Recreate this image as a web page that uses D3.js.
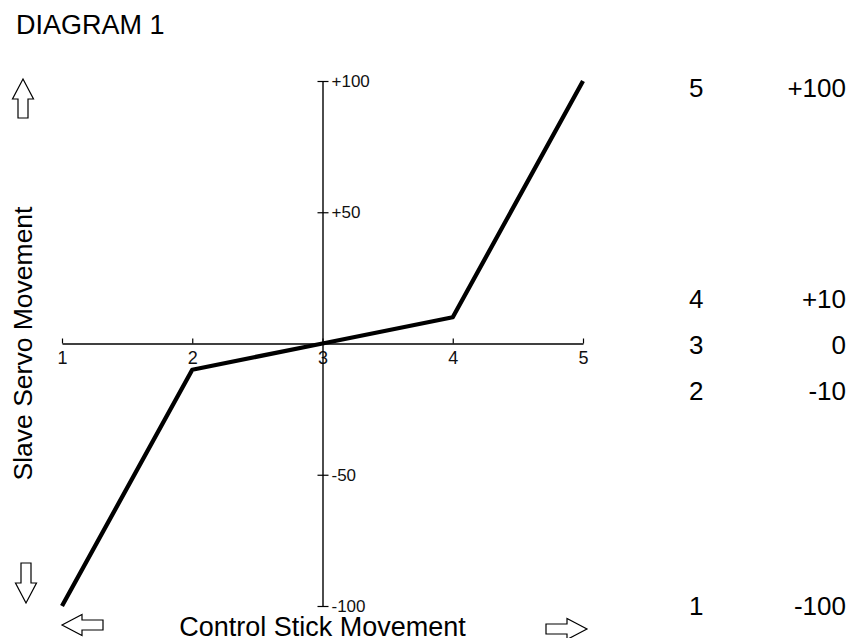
<!DOCTYPE html>
<html>
<head>
<meta charset="utf-8">
<script src="https://cdn.jsdelivr.net/npm/d3@7"></script>
<style>
  body { margin: 0; background: #fff; }
  svg { display: block; font-family: "Liberation Sans", Arial, sans-serif; }
</style>
</head>
<body>
<div id="chart"></div>
<script>
var width = 852,
    height = 638;

// data
var stickPos = [1, 2, 3, 4, 5];
var servoOut = [-100, -10, 0, 10, 100];
var xTickLabels = ["1", "2", "3", "4", "5"];
var yTicks = [100, 50, -50, -100];
var yTickLabels = ["+100", "+50", "-50", "-100"];
var tablePos = ["5", "4", "3", "2", "1"];
var tableOut = ["+100", "+10", "0", "-10", "-100"];

var svg = d3.select("#chart")
    .append("svg")
    .attr("width", width)
    .attr("height", height);

var x = d3.scaleLinear().domain([1, 5]).range([62, 583]);
var y = d3.scaleLinear().domain([-100, 100]).range([606, 81]);

svg.append("text")
    .attr("x", 16)
    .attr("y", 34)
    .style("font-size", "27px")
    .text("DIAGRAM 1");

// x axis, ticks pointing up
var xAxis = d3.axisBottom(x)
    .tickValues(stickPos)
    .tickFormat(function(d, i) { return xTickLabels[i]; })
    .tickSizeInner(-5)
    .tickSizeOuter(0)
    .tickPadding(8);

var gx = svg.append("g")
    .attr("transform", "translate(0," + y(0) + ")")
    .call(xAxis);
gx.select(".domain").attr("stroke-width", 1.4);
gx.selectAll(".tick line").attr("stroke-width", 1.2);
gx.selectAll(".tick text")
    .style("font-size", "18px")
    .style("font-family", "'Liberation Sans', Arial, sans-serif")
    .attr("fill", "#111");

// y axis, ticks across the line
var yAxis = d3.axisRight(y)
    .tickValues(yTicks)
    .tickFormat(function(d, i) { return yTickLabels[i]; })
    .tickSizeInner(6)
    .tickSizeOuter(0)
    .tickPadding(3);

var gy = svg.append("g")
    .attr("transform", "translate(" + x(3) + ",0)")
    .call(yAxis);
gy.select(".domain").attr("stroke-width", 1.4);
gy.selectAll(".tick line").attr("x1", -5).attr("stroke-width", 1.2);
gy.selectAll(".tick text")
    .style("font-size", "17px")
    .style("font-family", "'Liberation Sans', Arial, sans-serif")
    .attr("fill", "#111");

// response curve
var line = d3.line()
    .x(function(d, i) { return x(stickPos[i]); })
    .y(function(d) { return y(d); });

svg.append("path")
    .datum(servoOut)
    .attr("d", line)
    .attr("fill", "none")
    .attr("stroke", "#000")
    .attr("stroke-width", 4.3)
    .attr("stroke-linejoin", "round");

// axis titles
svg.append("text")
    .attr("x", x(3))
    .attr("y", 636)
    .attr("text-anchor", "middle")
    .style("font-size", "27px")
    .text("Control Stick Movement");

svg.append("text")
    .attr("transform", "translate(32," + y(0) + ") rotate(-90)")
    .attr("text-anchor", "middle")
    .style("font-size", "26.5px")
    .text("Slave Servo Movement");

// hollow block arrows: tip point, direction, total length
function blockArrow(tx, ty, dir, len) {
    var head = 20, hw = 10.5, sw = 5;
    var pts = [[0, 0], [head, -hw], [head, -sw], [len, -sw], [len, sw], [head, sw], [head, hw]];
    var a = { up: -Math.PI / 2, down: Math.PI / 2, left: Math.PI, right: 0 }[dir];
    // pts run from the tip backwards, so turn them to point the tip in dir
    var c = Math.cos(a + Math.PI), s = Math.sin(a + Math.PI);
    return "M" + pts.map(function(p) {
        return [tx + p[0] * c - p[1] * s, ty + p[0] * s + p[1] * c].join(",");
    }).join("L") + "Z";
}

var arrows = [
    { tx: 23, ty: 79, dir: "up", len: 39 },
    { tx: 26, ty: 603, dir: "down", len: 40 },
    { tx: 62, ty: 625, dir: "left", len: 41 },
    { tx: 587, ty: 629, dir: "right", len: 41 }
];

svg.selectAll("path.arrow")
    .data(arrows)
    .enter().append("path")
    .attr("class", "arrow")
    .attr("d", function(d) { return blockArrow(d.tx, d.ty, d.dir, d.len); })
    .attr("fill", "#fff")
    .attr("stroke", "#000")
    .attr("stroke-width", 1.2);

// value table on the right
var rowY = function(i) {
    var v = +tableOut[i];
    if (Math.abs(v) === 100) return v > 0 ? y(v) + 16 : y(v) + 9;
    return y(0) + 10 - v * 4.6;
};

var rows = svg.selectAll("g.row")
    .data(tablePos)
    .enter().append("g")
    .attr("class", "row");

rows.append("text")
    .attr("x", 689)
    .attr("y", function(d, i) { return rowY(i); })
    .style("font-size", "26px")
    .text(function(d) { return d; });

rows.append("text")
    .attr("x", 846)
    .attr("y", function(d, i) { return rowY(i); })
    .attr("text-anchor", "end")
    .style("font-size", "26px")
    .text(function(d, i) { return tableOut[i]; });
</script>
</body>
</html>
